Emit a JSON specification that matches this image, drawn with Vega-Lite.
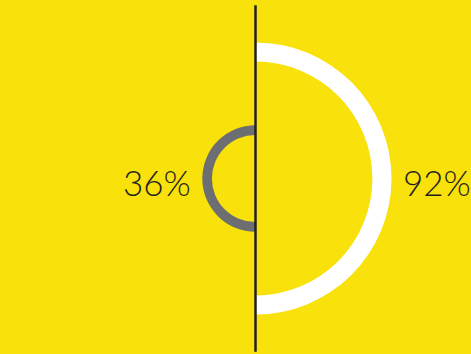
{
  "$schema": "https://vega.github.io/schema/vega-lite/v6.json",
  "width": 471,
  "height": 354,
  "autosize": {"type": "fit", "contains": "padding"},
  "padding": 0,
  "background": "#F9E10C",
  "config": {"view": {"stroke": null}},
  "data": {"values": [
    {"label": "36%", "value": 36, "side": "left"},
    {"label": "92%", "value": 92, "side": "right"}
  ]},
  "encoding": {
    "x": {"datum": 0, "type": "quantitative", "scale": {"domain": [-255.5, 215.5], "nice": false, "zero": false}, "axis": null},
    "y": {"datum": 0, "type": "quantitative", "scale": {"domain": [-175.5, 178.5], "nice": false, "zero": false}, "axis": null}
  },
  "layer": [
    {
      "transform": [{"filter": "datum.side === 'right'"}],
      "mark": {"type": "arc", "theta": 0, "theta2": 3.14159265, "color": "#FFFFFF"},
      "encoding": {
        "radius": {"field": "value", "type": "quantitative", "scale": {"type": "linear", "domain": [0, 92], "range": [0, 136], "zero": true}},
        "radius2": {"datum": 79.1}
      }
    },
    {
      "transform": [{"filter": "datum.side === 'left'"}],
      "mark": {"type": "arc", "theta": 3.14159265, "theta2": 6.2831853, "color": "#6D6E71"},
      "encoding": {
        "radius": {"field": "value", "type": "quantitative"},
        "radius2": {"datum": 29.5}
      }
    },
    {
      "data": {"values": [{"kind": "divider"}]},
      "mark": {"type": "rule", "color": "#231F20", "strokeWidth": 2.5},
      "encoding": {
        "y": {"datum": -173.2, "type": "quantitative"},
        "y2": {"datum": 173.2}
      }
    },
    {
      "transform": [{"filter": "datum.side === 'left'"}],
      "mark": {"type": "text", "theta": 4.71238898, "align": "right", "baseline": "alphabetic", "dx": -11.5, "dy": 17.5, "fontSize": 35, "letterSpacing": -1, "font": "Lato", "fontWeight": 300, "color": "#231F20"},
      "encoding": {
        "radius": {"field": "value", "type": "quantitative"},
        "text": {"field": "label"}
      }
    },
    {
      "transform": [{"filter": "datum.side === 'right'"}],
      "mark": {"type": "text", "theta": 1.57079633, "align": "left", "baseline": "alphabetic", "dx": 11.5, "dy": 17.5, "fontSize": 35, "letterSpacing": -1, "font": "Lato", "fontWeight": 300, "color": "#231F20"},
      "encoding": {
        "radius": {"field": "value", "type": "quantitative"},
        "text": {"field": "label"}
      }
    }
  ]
}
